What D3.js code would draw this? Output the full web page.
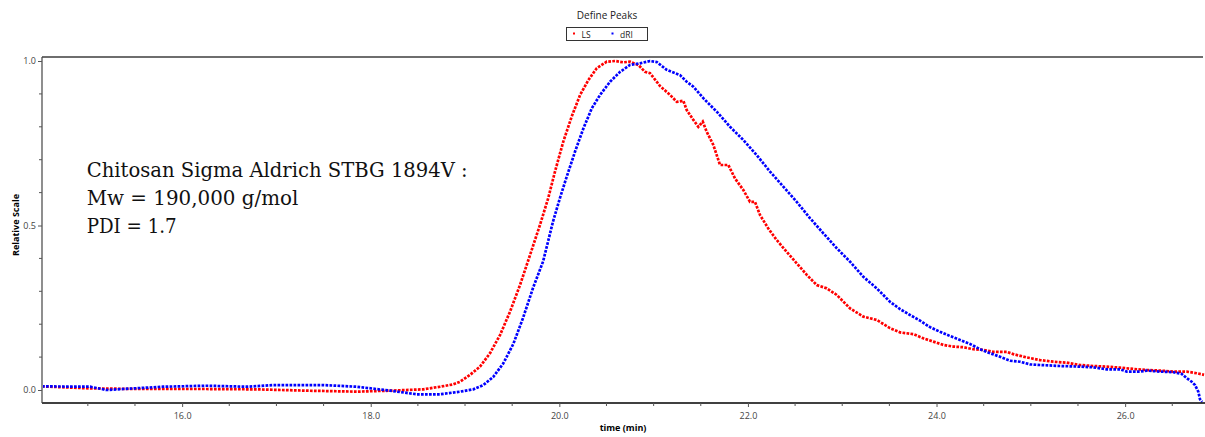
<!DOCTYPE html>
<html>
<head>
<meta charset="utf-8">
<script src="https://cdn.jsdelivr.net/npm/d3@7"></script>
<style>
  html, body { margin: 0; padding: 0; background: #fff; }
  svg { display: block; }
</style>
</head>
<body>
<svg id="chart" width="1205" height="437"></svg>
<script>
// ---- data ----
const chartTitle = "Define Peaks";
const seriesNames = ["LS", "dRI"];
const seriesColors = ["#ff0000", "#0000ff"];
const xTickValues = [16, 18, 20, 22, 24, 26];
const yTickValues = [0, 0.5, 1.0];
const xLabel = "time (min)";
const yLabel = "Relative Scale";
const noteLines = ["Chitosan Sigma Aldrich STBG 1894V :", "Mw = 190,000 g/mol", "PDI = 1.7"];

const lsTime = [14.514, 15.023, 15.554, 16.261, 16.791, 17.321, 17.852, 18.205, 18.558, 18.735, 18.873, 18.947,
  19.053, 19.159, 19.265, 19.371, 19.477, 19.583, 19.689, 19.795, 19.883, 19.954, 20.042, 20.131, 20.220,
  20.308, 20.397, 20.503, 20.591, 20.679, 20.750, 20.838, 20.909, 20.962, 21.068, 21.174, 21.245, 21.315,
  21.351, 21.421, 21.474, 21.521, 21.563, 21.633, 21.704, 21.792, 21.863, 21.951, 22.022, 22.075, 22.128,
  22.216, 22.305, 22.411, 22.517, 22.624, 22.730, 22.836, 22.942, 23.083, 23.224, 23.366, 23.507, 23.613,
  23.754, 23.860, 23.966, 24.072, 24.178, 24.284, 24.390, 24.496, 24.602, 24.744, 24.814, 24.957, 25.098,
  25.239, 25.381, 25.522, 25.663, 25.805, 25.946, 26.087, 26.229, 26.370, 26.511, 26.653, 26.759, 26.837];
const lsValue = [0.011, 0.005, 0.003, 0.003, 0.002, -0.002, -0.005, -0.002, 0.002, 0.010, 0.017, 0.025,
  0.046, 0.071, 0.112, 0.167, 0.238, 0.319, 0.410, 0.502, 0.584, 0.664, 0.755, 0.831, 0.897,
  0.942, 0.978, 0.998, 1.000, 0.996, 0.998, 0.988, 0.967, 0.963, 0.924, 0.897, 0.876, 0.879,
  0.851, 0.821, 0.800, 0.816, 0.785, 0.745, 0.684, 0.684, 0.643, 0.608, 0.572, 0.572, 0.532,
  0.491, 0.456, 0.420, 0.385, 0.350, 0.319, 0.309, 0.289, 0.248, 0.223, 0.213, 0.188, 0.175,
  0.170, 0.157, 0.147, 0.137, 0.132, 0.130, 0.124, 0.122, 0.116, 0.116, 0.109, 0.099, 0.091,
  0.086, 0.083, 0.076, 0.073, 0.071, 0.068, 0.064, 0.061, 0.059, 0.056, 0.056, 0.051, 0.046];

const driTime = [14.514, 15.023, 15.200, 15.373, 15.797, 16.261, 16.685, 16.964, 17.494, 17.852, 18.205, 18.488,
  18.735, 18.947, 19.088, 19.194, 19.300, 19.406, 19.512, 19.615, 19.721, 19.827, 19.933, 20.007, 20.078,
  20.166, 20.255, 20.344, 20.432, 20.538, 20.644, 20.750, 20.856, 20.962, 21.033, 21.139, 21.280, 21.351,
  21.421, 21.527, 21.669, 21.810, 21.951, 22.093, 22.234, 22.375, 22.517, 22.659, 22.800, 22.942, 23.083,
  23.224, 23.366, 23.507, 23.613, 23.719, 23.825, 23.931, 24.037, 24.143, 24.249, 24.355, 24.461, 24.567,
  24.673, 24.779, 24.885, 24.992, 25.098, 25.310, 25.522, 25.663, 25.805, 25.946, 26.017, 26.158, 26.229,
  26.370, 26.511, 26.600, 26.653, 26.706, 26.741, 26.776, 26.794, 26.816];
const driValue = [0.011, 0.010, 0.000, 0.003, 0.010, 0.013, 0.010, 0.015, 0.015, 0.010, -0.002, -0.013,
  -0.013, -0.005, 0.002, 0.015, 0.040, 0.081, 0.140, 0.219, 0.310, 0.390, 0.512, 0.584, 0.648,
  0.724, 0.795, 0.856, 0.897, 0.937, 0.967, 0.988, 0.993, 1.000, 0.997, 0.973, 0.957, 0.937,
  0.922, 0.887, 0.846, 0.800, 0.760, 0.714, 0.664, 0.618, 0.572, 0.522, 0.476, 0.431, 0.390,
  0.344, 0.309, 0.268, 0.246, 0.228, 0.211, 0.191, 0.177, 0.164, 0.152, 0.140, 0.124, 0.112,
  0.101, 0.089, 0.086, 0.078, 0.076, 0.073, 0.071, 0.069, 0.063, 0.063, 0.056, 0.056, 0.059,
  0.056, 0.054, 0.049, 0.036, 0.025, 0.015, -0.005, -0.028, -0.036];

// ---- layout ----
const svg = d3.select("#chart");
const plot = { left: 42, right: 1205, top: 57, bottom: 403 };
const x = d3.scaleLinear().domain([14.514, 26.85]).range([plot.left, plot.left + (26.85 - 14.514) * 94.3]);
const y = d3.scaleLinear().domain([-0.0395, 1.0122]).range([plot.bottom, plot.top]);

const tickFont = "'Open Sans', 'Noto Sans', sans-serif";

// clip
svg.append("defs").append("clipPath").attr("id", "clip")
  .append("rect").attr("x", plot.left + 1).attr("y", plot.top).attr("width", plot.right - plot.left).attr("height", plot.bottom - plot.top);

// top border
svg.append("line").attr("x1", plot.left).attr("x2", 1203).attr("y1", plot.top).attr("y2", plot.top)
  .attr("stroke", "#6e6e6e").attr("stroke-width", 2);

// series
const series = [
  { name: seriesNames[0], color: seriesColors[0], t: lsTime, v: lsValue },
  { name: seriesNames[1], color: seriesColors[1], t: driTime, v: driValue }
];
const line = d3.line().x(d => x(d[0])).y(d => y(d[1]));
const g = svg.append("g").attr("clip-path", "url(#clip)");
series.forEach(s => {
  const pts = s.t.map((t, i) => [t, s.v[i]]);
  g.append("path").attr("d", line(pts)).attr("fill", "none")
    .attr("stroke", s.color).attr("stroke-width", 2.7)
    .attr("stroke-dasharray", "2.7,1.3");
});

// x axis
const xAxis = d3.axisBottom(x).tickValues(xTickValues).tickFormat(d3.format(".1f")).tickSize(4).tickSizeOuter(0);
const xg = svg.append("g").attr("transform", `translate(0,${plot.bottom})`).call(xAxis);
xg.select(".domain").attr("stroke", "#000").attr("stroke-width", 1.5).attr("d", `M${plot.left},0H${plot.right}`);
xg.selectAll(".tick line").attr("stroke", "#555");
xg.selectAll(".tick text").attr("font-family", tickFont).attr("font-size", 9).attr("fill", "#444").attr("dy", "0.95em");
const xMinor = d3.range(15, 27, 0.5).filter(v => !xTickValues.includes(v) && v >= 14.514);
svg.append("g").selectAll("line").data(xMinor).join("line")
  .attr("x1", d => x(d)).attr("x2", d => x(d)).attr("y1", plot.bottom).attr("y2", plot.bottom + 3)
  .attr("stroke", "#555");

// y axis
const yAxis = d3.axisLeft(y).tickValues(yTickValues).tickFormat(d3.format(".1f")).tickSize(4).tickSizeOuter(0);
const yg = svg.append("g").attr("transform", `translate(${plot.left},0)`).call(yAxis);
yg.select(".domain").attr("stroke", "#444").attr("stroke-width", 1.2).attr("d", `M0,${plot.top}V${plot.bottom}`);
yg.selectAll(".tick line").attr("stroke", "#555");
yg.selectAll(".tick text").attr("font-family", tickFont).attr("font-size", 9).attr("fill", "#444").attr("dx", "0.1em");
const yMinor = d3.range(0.1, 1.0, 0.1).filter(v => Math.abs(v - 0.5) > 1e-6);
svg.append("g").selectAll("line").data(yMinor).join("line")
  .attr("x1", plot.left - 3).attr("x2", plot.left).attr("y1", d => y(d)).attr("y2", d => y(d))
  .attr("stroke", "#555");

// axis titles
svg.append("text").attr("x", 623).attr("y", 431).attr("text-anchor", "middle")
  .attr("font-family", tickFont).attr("font-weight", "bold").attr("font-size", 9).attr("fill", "#000").text(xLabel);
svg.append("text").attr("transform", "translate(19,225) rotate(-90)").attr("text-anchor", "middle")
  .attr("font-family", tickFont).attr("font-weight", "bold").attr("font-size", 9).attr("fill", "#000").text(yLabel);

// title
svg.append("text").attr("x", 607).attr("y", 18.5).attr("text-anchor", "middle")
  .attr("font-family", tickFont).attr("font-size", 10).attr("fill", "#222").text(chartTitle);

// legend
svg.append("rect").attr("x", 566.5).attr("y", 27.5).attr("width", 81).attr("height", 13)
  .attr("fill", "#fff").attr("stroke", "#333").attr("stroke-width", 1);
const legX = [574, 612.5];
series.forEach((s, i) => {
  svg.append("rect").attr("x", legX[i] - 1).attr("y", 32.5).attr("width", 2).attr("height", 2).attr("fill", s.color);
  svg.append("text").attr("x", legX[i] + 7.5).attr("y", 37.8).attr("font-family", tickFont).attr("font-size", 8.5)
    .attr("fill", "#222").text(s.name);
});

// annotation
const noteWidths = [381, 211.7, 90];
noteLines.forEach((t, i) => {
  svg.append("text").attr("x", 86.7).attr("y", 176.7 + i * 28.3)
    .attr("font-family", "'DejaVu Serif', serif").attr("font-size", 20).attr("fill", "#111")
    .attr("textLength", noteWidths[i]).attr("lengthAdjust", "spacingAndGlyphs").text(t);
});
</script>
</body>
</html>
